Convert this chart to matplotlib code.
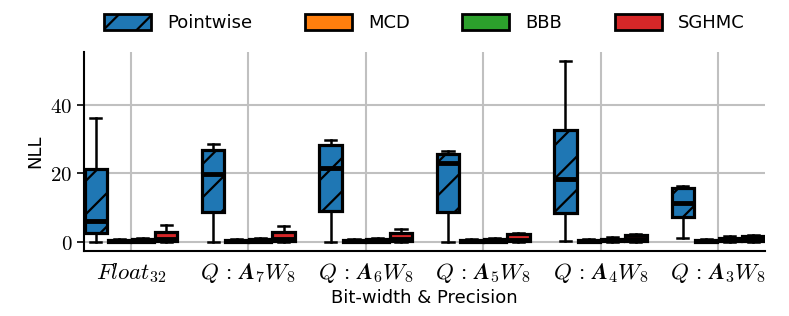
import numpy as np
import matplotlib.pyplot as plt
from matplotlib.patches import Patch

plt.rcParams['mathtext.fontset'] = 'cm'
plt.rcParams['font.family'] = ['DejaVu Sans']
plt.rcParams['hatch.linewidth'] = 1.6

# groups on the x axis
groups = [r'$Float_{32}$', r'$Q\,:\,\mathbfit{A}_\mathbf{7}W_8$', r'$Q\,:\,\mathbfit{A}_\mathbf{6}W_8$',
          r'$Q\,:\,\mathbfit{A}_\mathbf{5}W_8$', r'$Q\,:\,\mathbfit{A}_\mathbf{4}W_8$', r'$Q\,:\,\mathbfit{A}_\mathbf{3}W_8$']
methods = ['Pointwise', 'MCD', 'BBB', 'SGHMC']
colors = ['#1f77b4', '#ff7f0e', '#2ca02c', '#d62728']

# box stats per method, one entry per group: (whislo, q1, med, q3, whishi)
pointwise = [(0.0, 2.7, 6.1, 21.2, 36.0),
             (0.0, 8.6, 19.7, 26.8, 28.5),
             (0.0, 9.0, 21.6, 28.2, 29.7),
             (0.0, 8.6, 23.0, 25.7, 26.4),
             (0.4, 8.3, 18.4, 32.6, 52.7),
             (1.1, 7.4, 11.3, 15.7, 16.4)]
mcd = [(0.0, 0.1, 0.3, 0.7, 0.9),
       (0.0, 0.1, 0.3, 0.7, 0.9),
       (0.0, 0.1, 0.3, 0.7, 0.9),
       (0.0, 0.1, 0.3, 0.6, 0.8),
       (0.0, 0.1, 0.3, 0.6, 0.8),
       (0.0, 0.1, 0.3, 0.6, 0.8)]
bbb = [(0.0, 0.1, 0.4, 0.9, 1.2),
       (0.0, 0.1, 0.4, 0.9, 1.2),
       (0.0, 0.1, 0.4, 0.9, 1.1),
       (0.0, 0.1, 0.4, 0.8, 1.1),
       (0.0, 0.2, 0.5, 1.0, 1.3),
       (0.0, 0.2, 0.6, 1.1, 1.8)]
sghmc = [(0.0, 0.3, 1.0, 2.9, 4.9),
         (0.0, 0.3, 0.9, 2.9, 4.6),
         (0.0, 0.3, 0.8, 2.7, 3.7),
         (0.0, 0.3, 0.7, 2.2, 2.6),
         (0.0, 0.3, 1.0, 2.0, 2.3),
         (0.0, 0.3, 0.9, 1.6, 1.9)]
all_stats = [pointwise, mcd, bbb, sghmc]

fig = plt.figure(figsize=(7.89, 3.16), dpi=100)
ax = fig.add_axes([0.1065, 0.2057, 0.863, 0.63])

offsets = [-0.3, -0.1, 0.1, 0.3]
for m, stats in enumerate(all_stats):
    bx = []
    for s in stats:
        bx.append(dict(whislo=s[0], q1=s[1], med=s[2], q3=s[3], whishi=s[4], fliers=[]))
    pos = np.arange(len(groups)) + offsets[m]
    res = ax.bxp(bx, positions=pos, widths=0.19, patch_artist=True, showfliers=False,
                 boxprops=dict(facecolor=colors[m], edgecolor='black', linewidth=2.3),
                 medianprops=dict(color='black', linewidth=3.5),
                 whiskerprops=dict(color='black', linewidth=1.8),
                 capprops=dict(color='black', linewidth=1.8), capwidths=0.095,
                 zorder=3)
    if m == 0:
        for b in res['boxes']:
            b.set_hatch('/')

ax.set_xticks(range(len(groups)))
ax.set_xticklabels(groups, fontsize=16.5)
ax.set_xlim(-0.4, 5.4)
ax.set_yticks([0, 20, 40])
ax.set_yticklabels(['$0$', '$20$', '$40$'], fontsize=15)
ax.tick_params(axis='x', length=0, pad=7)
ax.tick_params(axis='y', length=5, width=1.2)
ax.grid(True, color='#c0c0c0', linewidth=1.5, zorder=0)
ax.set_axisbelow(True)
for side in ['top', 'right']:
    ax.spines[side].set_visible(False)
for side in ['left', 'bottom']:
    ax.spines[side].set_linewidth(1.5)

ax.set_ylabel('NLL', fontsize=13)
ax.set_xlabel('Bit-width & Precision', fontsize=13, labelpad=3)

handles = []
for m in range(4):
    handles.append(Patch(facecolor=colors[m], edgecolor='black', linewidth=2,
                         hatch='/' if m == 0 else None, label=methods[m]))
ax.legend(handles=handles, loc='lower center', bbox_to_anchor=(0.5, 1.0), ncol=4,
          frameon=False, fontsize=13, handlelength=2.6, handleheight=1.0,
          handletextpad=0.9, columnspacing=2.9, borderaxespad=0.7)

fig.savefig('out.png', dpi=100)
